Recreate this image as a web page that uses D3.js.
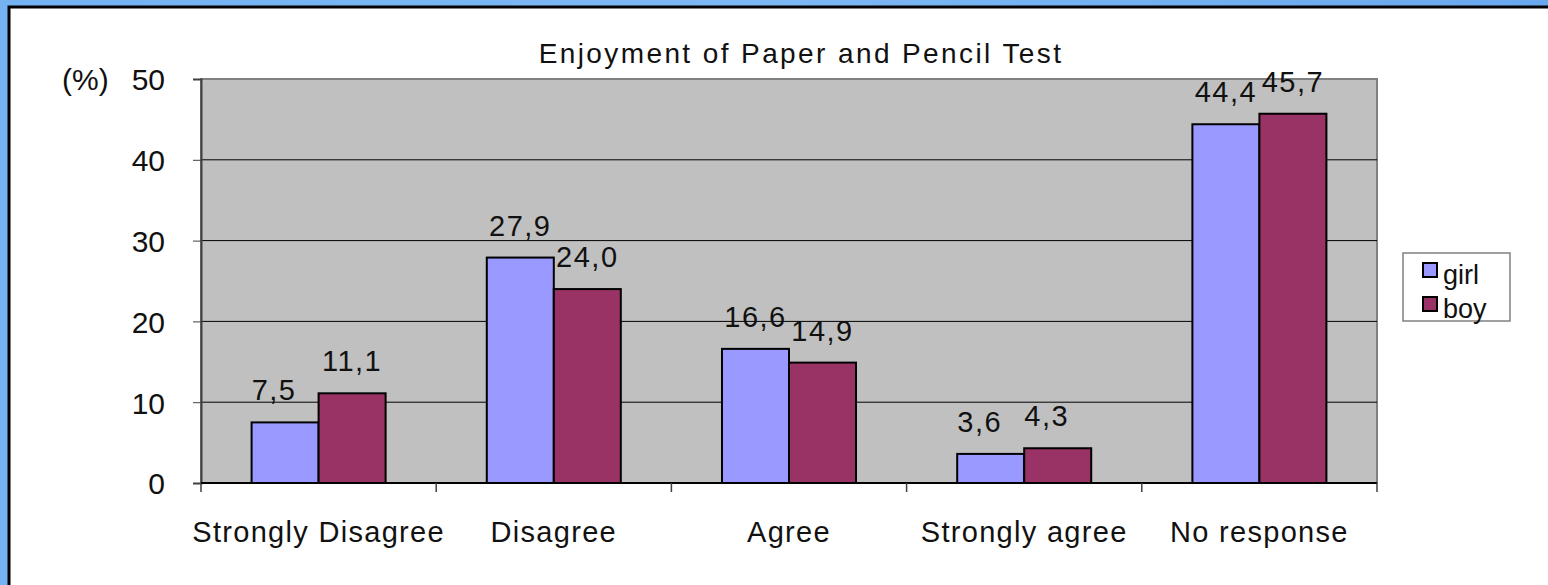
<!DOCTYPE html>
<html>
<head>
<meta charset="utf-8">
<script src="https://cdn.jsdelivr.net/npm/d3@7"></script>
<style>
  html, body { margin: 0; padding: 0; }
  body { width: 1548px; height: 585px; overflow: hidden; background: #78b4f0; }
  svg text { font-family: "Liberation Sans", Arial, sans-serif; fill: #111; }
</style>
</head>
<body>
<svg id="chart" width="1548" height="585"></svg>
<script>
// data
var categories = ["Strongly Disagree", "Disagree", "Agree", "Strongly agree", "No response"];
var series = ["girl", "boy"];
var girl = [7.5, 27.9, 16.6, 3.6, 44.4];
var boy = [11.1, 24.0, 14.9, 4.3, 45.7];
var yTicks = [0, 10, 20, 30, 40, 50];
var colors = {girl: "#9999ff", boy: "#993366"};

var svg = d3.select("svg#chart");

// blue backdrop + white panel
var bg = svg.append("defs").append("linearGradient")
  .attr("id", "bg").attr("x1", 0).attr("x2", 1).attr("y1", 0).attr("y2", 0);
bg.append("stop").attr("offset", "0%").attr("stop-color", "#74b2f2");
bg.append("stop").attr("offset", "50%").attr("stop-color", "#7cb8f4");
bg.append("stop").attr("offset", "100%").attr("stop-color", "#6aa8ee");
svg.append("rect").attr("width", 1548).attr("height", 585).attr("fill", "url(#bg)");
svg.append("rect")
  .attr("x", 9).attr("y", 7).attr("width", 1560).attr("height", 600)
  .attr("fill", "#fff").attr("stroke", "#000").attr("stroke-width", 3);

var plot = {left: 201, right: 1377, top: 79, bottom: 483};

var x0 = d3.scaleBand().domain(categories).range([plot.left, plot.right]).padding(0);
var x1 = d3.scaleBand().domain(series).range([0, x0.bandwidth()])
  .paddingInner(0).paddingOuter(0.755);
var y = d3.scaleLinear().domain([0, 50]).range([plot.bottom, plot.top]);

// plot area
svg.append("rect")
  .attr("x", plot.left).attr("y", plot.top)
  .attr("width", plot.right - plot.left).attr("height", plot.bottom - plot.top)
  .attr("fill", "#c0c0c0").attr("stroke", "#808080").attr("stroke-width", 2);

// gridlines
svg.append("g")
  .selectAll("line")
  .data(yTicks.filter(function (d) { return d > 0 && d < 50; }))
  .enter()
  .append("line")
  .attr("x1", plot.left).attr("x2", plot.right)
  .attr("y1", function (d) { return y(d); })
  .attr("y2", function (d) { return y(d); })
  .attr("stroke", "#000").attr("stroke-width", 1);

// y axis
var yAxis = svg.append("g")
  .attr("transform", "translate(" + plot.left + ",0)")
  .call(d3.axisLeft(y).tickValues(yTicks).tickSize(8).tickPadding(28));
yAxis.select(".domain").attr("stroke", "#404040").attr("stroke-width", 2);
yAxis.selectAll(".tick line").attr("stroke", "#404040");
yAxis.selectAll("text")
  .style("font-size", "30px").attr("dy", "0.36em");

svg.append("text")
  .attr("x", 62).attr("y", y(50) + 11)
  .style("font-size", "30px")
  .text("(%)");

// x axis line and boundary ticks
svg.append("line")
  .attr("x1", plot.left).attr("x2", plot.right)
  .attr("y1", y(0)).attr("y2", y(0))
  .attr("stroke", "#000").attr("stroke-width", 2);

var bounds = categories.map(function (c) { return x0(c); }).concat([plot.right]);
svg.append("g")
  .selectAll("line")
  .data(bounds)
  .enter()
  .append("line")
  .attr("x1", function (d) { return d; })
  .attr("x2", function (d) { return d; })
  .attr("y1", y(0)).attr("y2", y(0) + 9)
  .attr("stroke", "#404040").attr("stroke-width", 1.5);

svg.append("g")
  .selectAll("text")
  .data(categories)
  .enter()
  .append("text")
  .attr("x", function (d) { return x0(d) + x0.bandwidth() / 2; })
  .attr("y", 542)
  .attr("text-anchor", "middle")
  .style("font-size", "29px")
  .style("letter-spacing", "1.3px")
  .text(function (d) { return d; });

// bars
var rows = categories.map(function (c, i) {
  return {cat: c, values: [{key: "girl", v: girl[i]}, {key: "boy", v: boy[i]}]};
});

var groups = svg.append("g")
  .selectAll("g")
  .data(rows)
  .enter()
  .append("g")
  .attr("transform", function (d) { return "translate(" + x0(d.cat) + ",0)"; });

groups.selectAll("rect")
  .data(function (d) { return d.values; })
  .enter()
  .append("rect")
  .attr("x", function (d) { return x1(d.key); })
  .attr("y", function (d) { return y(d.v); })
  .attr("width", x1.bandwidth())
  .attr("height", function (d) { return y(0) - y(d.v); })
  .attr("fill", function (d) { return colors[d.key]; })
  .attr("stroke", "#000").attr("stroke-width", 2);

// labels: one-digit values sit a little left, as in the original
groups.selectAll("text")
  .data(function (d) { return d.values; })
  .enter()
  .append("text")
  .attr("x", function (d) { return x1(d.key) + x1.bandwidth() / 2; })
  .attr("y", function (d) { return y(d.v) - 22; })
  .attr("dx", function (d) { return d.v < 10 ? -11 : 0; })
  .attr("text-anchor", "middle")
  .style("font-size", "29px")
  .style("letter-spacing", "1.5px")
  .text(function (d) { return d.v.toFixed(1).replace(".", ","); });

// title
svg.append("text")
  .attr("x", 801).attr("y", 63)
  .attr("text-anchor", "middle")
  .style("font-size", "28px")
  .style("letter-spacing", "2.4px")
  .text("Enjoyment of Paper and Pencil Test");

// legend
var legend = svg.append("g").attr("transform", "translate(1403,253)");
legend.append("rect")
  .attr("width", 107).attr("height", 68)
  .attr("fill", "#fff").attr("stroke", "#808080").attr("stroke-width", 1.5);
var items = legend.selectAll("g")
  .data(series)
  .enter()
  .append("g")
  .attr("transform", function (d, i) { return "translate(20," + (10 + i * 34) + ")"; });
items.append("rect")
  .attr("width", 14).attr("height", 14)
  .attr("fill", function (d) { return colors[d]; })
  .attr("stroke", "#000").attr("stroke-width", 2);
items.append("text")
  .attr("x", 20).attr("y", 21)
  .style("font-size", "27px")
  .text(function (d) { return d; });
</script>
</body>
</html>
